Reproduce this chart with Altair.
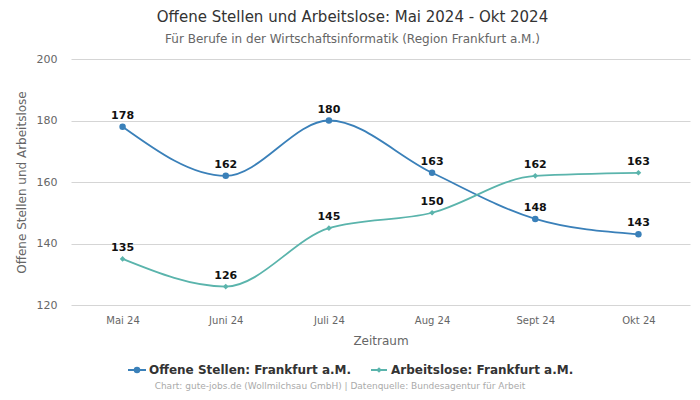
import altair as alt
import pandas as pd

months = ["Mai 24", "Juni 24", "Juli 24", "Aug 24", "Sept 24", "Okt 24"]
offene = [178, 162, 180, 163, 148, 143]
arbeitslose = [135, 126, 145, 150, 162, 163]
series_names = ["Offene Stellen: Frankfurt a.M.", "Arbeitslose: Frankfurt a.M."]
colors = ["#3a80b9", "#5ab4ac"]

rows = []
for m, v in zip(months, offene):
    rows.append({"Monat": m, "Wert": v, "Serie": series_names[0]})
for m, v in zip(months, arbeitslose):
    rows.append({"Monat": m, "Wert": v, "Serie": series_names[1]})
df = pd.DataFrame(rows)

FONT = "DejaVu Sans"
W, H = 619, 246

x = alt.X("Monat:N", sort=months, scale=alt.Scale(type="point", padding=0.5),
          axis=alt.Axis(title="Zeitraum", labelAngle=0, labelColor="#666", titleColor="#666",
                        labelFontSize=10, titleFontSize=12, titleFontWeight="normal",
                        domain=False, ticks=False, labelPadding=10, titlePadding=10,
                        labelFont=FONT, titleFont=FONT))
y = alt.Y("Wert:Q", scale=alt.Scale(domain=[120, 200], nice=False, zero=False),
          axis=alt.Axis(title="Offene Stellen und Arbeitslose", values=[120, 140, 160, 180, 200],
                        labelColor="#666", titleColor="#666", labelFontSize=11, titleFontSize=12,
                        titleFontWeight="normal", domain=False, ticks=False, labelPadding=14,
                        titlePadding=8, gridColor="#d5d5d5", labelFont=FONT, titleFont=FONT))
color = alt.Color("Serie:N", scale=alt.Scale(domain=series_names, range=colors), legend=None)
shape_scale = alt.Scale(domain=series_names, range=["circle", "diamond"])
size_scale = alt.Scale(domain=series_names, range=[42, 32])

base = alt.Chart(df)
lines = base.mark_line(interpolate="monotone", strokeWidth=1.8).encode(x=x, y=y, color=color)
points = base.mark_point(filled=True, opacity=1).encode(
    x=x, y=y, color=color,
    shape=alt.Shape("Serie:N", scale=shape_scale, legend=None),
    size=alt.Size("Serie:N", scale=size_scale, legend=None),
)
labels = base.mark_text(dy=-11, fontSize=11, fontWeight="bold", color="#111", font=FONT).encode(
    x=x, y=y, text="Wert:Q")

# manual legend (positions relative to plot area)
LEG_Y = 311
leg = pd.DataFrame({"Serie": series_names, "lx1": [57, 300], "lx2": [75, 316], "px": [66, 308],
                    "tx": [78, 320]})
leg_line = alt.Chart(leg).mark_rule(strokeWidth=2).encode(
    x=alt.X("lx1:Q", scale=None), x2="lx2:Q", y=alt.value(LEG_Y), color=color)
leg_pt = alt.Chart(leg).mark_point(filled=True, opacity=1).encode(
    x=alt.X("px:Q", scale=None), y=alt.value(LEG_Y), color=color,
    shape=alt.Shape("Serie:N", scale=shape_scale, legend=None),
    size=alt.Size("Serie:N", scale=size_scale, legend=None))
leg_txt = alt.Chart(leg).mark_text(align="left", baseline="middle", fontSize=12, fontWeight="bold",
                                   color="#333", font=FONT).encode(
    x=alt.X("tx:Q", scale=None), y=alt.value(LEG_Y), text="Serie:N")
footer = alt.Chart(pd.DataFrame({"t": ["Chart: gute-jobs.de (Wollmilchsau GmbH) | Datenquelle: Bundesagentur für Arbeit"]})).mark_text(
    fontSize=9, color="#aaa", font=FONT).encode(x=alt.value(269), y=alt.value(327), text="t:N")

chart = alt.layer(lines, points, labels, leg_line, leg_pt, leg_txt, footer).properties(
    width=W, height=H,
    title=alt.TitleParams("Offene Stellen und Arbeitslose: Mai 2024 - Okt 2024",
                          subtitle="Für Berufe in der Wirtschaftsinformatik (Region Frankfurt a.M.)",
                          anchor="middle", frame="bounds", fontSize=15, fontWeight="normal",
                          color="#333", subtitleFontSize=12, subtitleColor="#666",
                          font=FONT, subtitleFont=FONT, offset=8, subtitlePadding=9),
    autosize=alt.AutoSizeParams(type="none"),
    padding={"left": 63, "top": 51, "right": 2, "bottom": 87},
).configure_view(stroke=None)

chart.save("out.html", embed_options={"renderer": "svg", "actions": False})
